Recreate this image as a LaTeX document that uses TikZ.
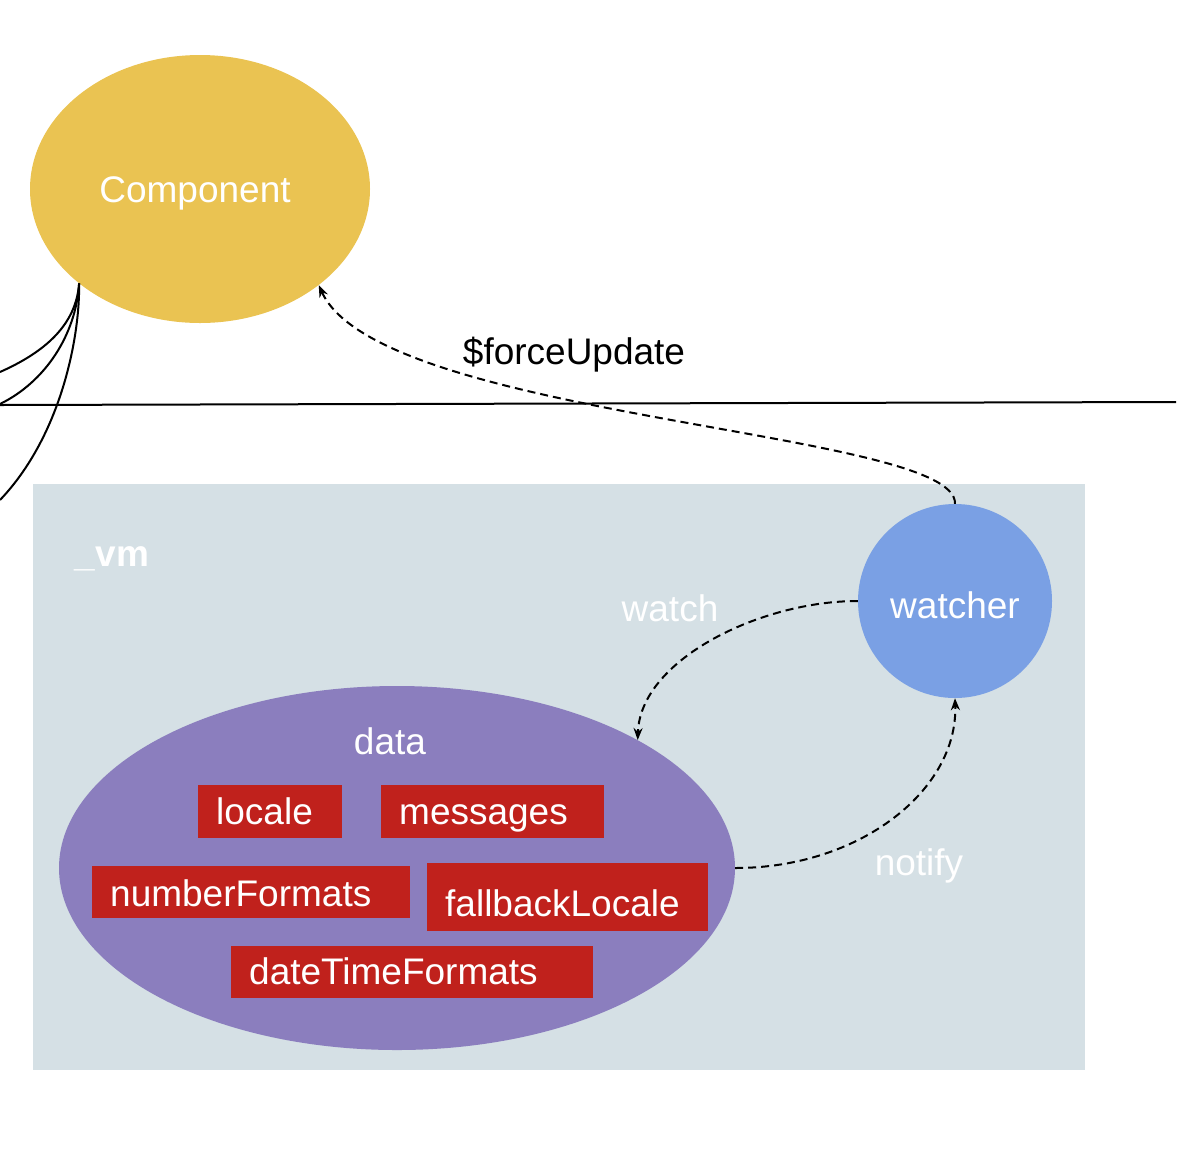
\documentclass[tikz,border=0pt]{standalone}
\usepackage{fontspec}
\setmainfont{Liberation Sans}
\usetikzlibrary{shapes.geometric,arrows.meta}
\definecolor{compcol}{RGB}{234,195,82}
\definecolor{watchcol}{RGB}{122,160,228}
\definecolor{datacol}{RGB}{139,126,190}
\definecolor{vmcol}{RGB}{213,224,229}
\definecolor{redcol}{RGB}{192,33,28}
\tikzset{
  txt/.style={font=\fontsize{37}{44}\selectfont, inner sep=0pt},
  wtxt/.style={txt, text=white},
  redbox/.style={wtxt, fill=redcol, inner xsep=18pt, inner ysep=0pt, align=left, anchor=north west, text depth=0pt},
  dashconn/.style={draw=black, line width=2pt, dash pattern=on 8pt off 5pt, -{Stealth[length=12pt,width=9pt]}},
  solidconn/.style={draw=black, line width=2pt},
}
\begin{document}
\begin{tikzpicture}[x=1pt,y=-1pt]
\useasboundingbox (0,0) rectangle (1182,1152);
% background region
\node[fill=vmcol, minimum width=1052pt, minimum height=586pt, inner sep=0pt, anchor=north west] (vm) at (33,484) {};
\node[wtxt, font=\fontsize{37}{44}\selectfont\bfseries, anchor=base] (vmlabel) at (112,566) {\_vm};
% Component
\node[ellipse, fill=compcol, minimum width=340pt, minimum height=268pt, inner sep=0pt] (comp) at (200,189) {};
\node[wtxt, anchor=base] (complabel) at (195,202) {Component};
% separator line
\coordinate (lineL) at (0,405);
\coordinate (lineR) at (1176,402);
\draw[solidconn] (lineL) -- (lineR);
% curves to the left
\coordinate (endA) at (0,372);
\coordinate (endB) at (0,404);
\coordinate (endC) at (0,500);
\draw[solidconn] (comp.218) .. controls (76,325) and (45,352) .. (endA);
\draw[solidconn] (comp.218) .. controls (76,335) and (45,382) .. (endB);
\draw[solidconn] (comp.218) .. controls (80,335) and (62,435) .. (endC);
% watcher
\node[circle, fill=watchcol, minimum size=194pt, inner sep=0pt] (watcher) at (955,601) {};
\node[wtxt, anchor=base] (watcherlabel) at (955,618) {watcher};
% data ellipse
\node[ellipse, fill=datacol, minimum width=676pt, minimum height=364pt, inner sep=0pt] (data) at (397,868) {};
\node[wtxt, anchor=base] (datalabel) at (390,754) {data};
% red boxes
\node[redbox, text width=108pt, text height=25pt, minimum height=53pt] (locale) at (198,785) {locale};
\node[redbox, text width=187pt, text height=25pt, minimum height=53pt] (messages) at (381,785) {messages};
\node[redbox, text width=282pt, text height=28pt, minimum height=52pt] (numberFormats) at (92,866) {numberFormats};
\node[redbox, text width=245pt, text height=38pt, minimum height=68pt] (fallbackLocale) at (427,863) {fallbackLocale};
\node[redbox, text width=326pt, text height=25pt, minimum height=52pt] (dateTimeFormats) at (231,946) {dateTimeFormats};
% labels
\node[txt, anchor=base] (fu) at (574,364) {\$forceUpdate};
\node[wtxt, anchor=base] (watchlbl) at (670,621) {watch};
\node[wtxt, anchor=base] (notifylbl) at (919,875) {notify};
% dashed connectors
\draw[dashconn] (watcher.north) .. controls (958,430) and (380,420) .. (comp.-39);
\draw[dashconn] (watcher.west) .. controls (760,601) and (640,660) .. (data.28);
\draw[dashconn] (data.east) .. controls (860,868) and (958,790) .. (watcher.south);
\end{tikzpicture}
\end{document}
